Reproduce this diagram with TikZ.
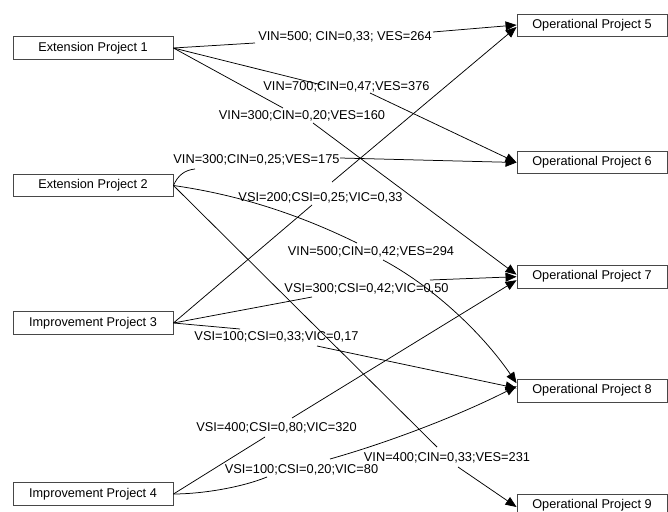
\documentclass[tikz,border=0pt]{standalone}
\usepackage{fontspec}
\setmainfont{Liberation Sans}
\usetikzlibrary{arrows.meta,calc}
\begin{document}
\begin{tikzpicture}[x=1pt,y=-1pt,
  box/.style={draw=black!72, line width=0.9pt, fill=white, minimum height=22.5pt, inner sep=0pt, font=\fontsize{12.7}{14}\selectfont},
  lbox/.style={box, minimum width=160pt},
  rbox/.style={box, minimum width=150pt},
  elabel/.style={inner sep=0pt, anchor=base, font=\fontsize{12.8}{14}\selectfont},
  conn/.style={line width=0.75pt, black},
  arr/.style={conn, -{Triangle[length=11pt,width=9pt]}}]
\useasboundingbox (0,0) rectangle (668,511);

% boxes
\node[lbox] (EP1) at (93,48) {Extension Project 1};
\node[lbox] (EP2) at (93,185.5) {Extension Project 2};
\node[lbox] (IP3) at (93,323) {Improvement Project 3};
\node[lbox] (IP4) at (93,494) {Improvement Project 4};
\node[rbox] (OP5) at (592,25.5) {Operational Project 5};
\node[rbox] (OP6) at (592,162.5) {Operational Project 6};
\node[rbox] (OP7) at (592,276.7) {Operational Project 7};
\node[rbox] (OP8) at (592,390.7) {Operational Project 8};
\node[rbox] (OP9) at (592,505.5) {Operational Project 9};

% labels
\node[elabel] (L1) at (345,40.5) {VIN=500; CIN=0,33; VES=264};
\node[elabel] (L2) at (346.5,90) {VIN=700;CIN=0,47;VES=376};
\node[elabel] (L3) at (302,119) {VIN=300;CIN=0,20;VES=160};
\node[elabel] (L4) at (256.5,163.5) {VIN=300;CIN=0,25;VES=175};
\node[elabel] (L5) at (320.5,201) {VSI=200;CSI=0,25;VIC=0,33};
\node[elabel] (L6) at (371,255.5) {VIN=500;CIN=0,42;VES=294};
\node[elabel] (L7) at (366.5,292) {VSI=300;CSI=0,42;VIC=0,50};
\node[elabel] (L8) at (276.5,340.5) {VSI=100;CSI=0,33;VIC=0,17};
\node[elabel] (L9) at (276.5,431) {VSI=400;CSI=0,80;VIC=320};
\node[elabel] (L10) at (301.5,473) {VSI=100;CSI=0,20;VIC=80};
\node[elabel] (L11) at (447,461) {VIN=400;CIN=0,33;VES=231};

% break points near labels
\coordinate (e1a) at (255,43);  \coordinate (e1b) at (433,32);
\coordinate (e2a) at (322,85);  \coordinate (e2b) at (370,93);
\coordinate (e3a) at (283,108); \coordinate (e3b) at (313,123);
\coordinate (e4a) at (195,169); \coordinate (e4b) at (340,158);
\coordinate (e5a) at (357,243); \coordinate (e5b) at (383,260);
\coordinate (e6a) at (437,447); \coordinate (e6b) at (458,467);
\coordinate (e7a) at (312,205); \coordinate (e7b) at (332,182);
\coordinate (e8a) at (312,297); \coordinate (e8b) at (430,280);
\coordinate (e9a) at (240,329); \coordinate (e9b) at (317,346);
\coordinate (e10a) at (265,437); \coordinate (e10b) at (292,418);
\coordinate (e11a) at (267,477); \coordinate (e11b) at (330,459);

% target points
\coordinate (t5a) at ($(OP5.west)+(0,-0.5)$);
\coordinate (t5b) at ($(OP5.west)+(0,1.5)$);
\coordinate (t7a) at ($(OP7.west)+(0,-2)$);
\coordinate (t7b) at ($(OP7.west)+(0,3.5)$);
\coordinate (t8a) at ($(OP8.west)+(0,-7.5)$);
\coordinate (t8b) at ($(OP8.west)+(0,-2.5)$);
\coordinate (t8c) at ($(OP8.west)+(0,-4.5)$);
\coordinate (t9) at ($(OP9.west)+(0,1.5)$);

% edges
\draw[conn] (EP1.east) -- (e1a);
\draw[arr] (e1b) -- (t5a);
\draw[conn] (EP1.east) -- (e2a);
\draw[arr] (e2b) -- (OP6.west);
\draw[conn] (EP1.east) -- (e3a);
\draw[arr] (e3b) -- (t7a);

\draw[conn] (EP2.east) .. controls (178,175) and (185,170) .. (e4a);
\draw[arr] (e4b) -- (OP6.west);
\draw[conn] (EP2.east) .. controls (240,195) and (300,215) .. (e5a);
\draw[arr] (e5b) .. controls (430,285) and (480,330) .. (t8a);
\draw[conn] (EP2.east) -- (e6a);
\draw[arr] (e6b) -- (t9);

\draw[conn] (IP3.east) -- (e7a);
\draw[arr] (e7b) -- (t5b);
\draw[conn] (IP3.east) -- (e8a);
\draw[arr] (e8b) -- (OP7.west);
\draw[conn] (IP3.east) -- (e9a);
\draw[arr] (e9b) -- (t8b);

\draw[conn] (IP4.east) -- (e10a);
\draw[arr] (e10b) -- (t7b);
\draw[conn] (IP4.east) .. controls (200,494) and (240,488) .. (e11a);
\draw[arr] (e11b) .. controls (390,442) and (460,415) .. (t8c);
\end{tikzpicture}
\end{document}
